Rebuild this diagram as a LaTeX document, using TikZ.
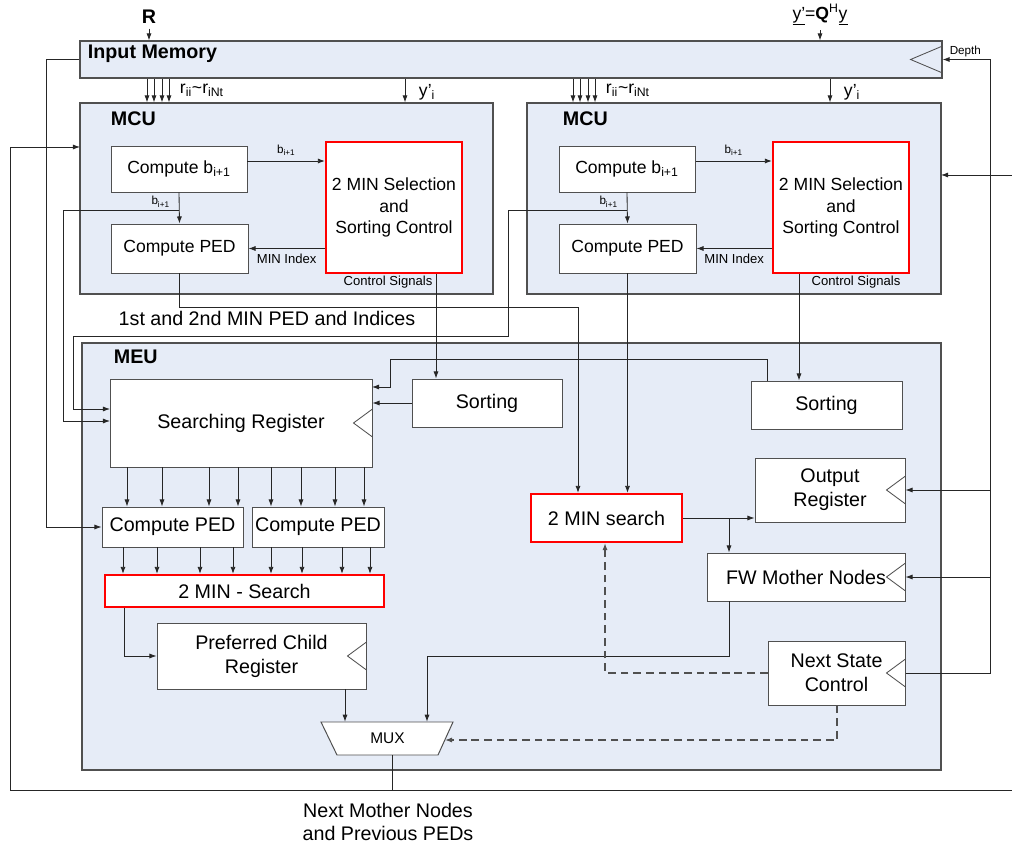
\documentclass[tikz,border=0pt]{standalone}
\usepackage{fontspec}
\setmainfont{Liberation Sans}
\usetikzlibrary{arrows.meta}

\definecolor{unitblue}{HTML}{E6ECF7}
\definecolor{edgegray}{HTML}{505050}

\tikzset{
  unit/.style={draw=edgegray, fill=unitblue, line width=0.8pt, inner sep=0pt},
  box/.style={draw=edgegray, fill=white, line width=0.7pt, inner sep=0pt, align=center},
  redbox/.style={box, draw=red, line width=1.6pt},
  wh/.style 2 args={minimum width=#1*0.025cm, minimum height=#2*0.025cm},
  arr/.style={-{Latex[length=5pt,width=3.6pt]}, line width=0.6pt, draw=black!85},
  ln/.style={line width=0.6pt, draw=black!85},
  dsh/.style={dash pattern=on 5.5pt off 3.5pt, draw=edgegray, line width=0.8pt},
  clk/.style={draw=edgegray, line width=0.6pt},
  big/.style={font=\fontsize{14}{17}\selectfont},
  mid/.style={font=\fontsize{12.5}{15.3}\selectfont},
  small/.style={font=\fontsize{9.3}{11}\selectfont},
  tiny/.style={font=\fontsize{8.3}{10}\selectfont},
  head/.style={font=\fontsize{14}{17}\selectfont\bfseries},
}

\begin{document}
\begin{tikzpicture}[x=0.025cm, y=-0.025cm]
\useasboundingbox (0,0) rectangle (1012,845);

%%Input memory
\node[unit, wh={862}{37}] (inmem) at (511,59.5) {};
\node[head, anchor=west] (inmemlbl) at (83,54) {Input Memory};
\draw[clk] (inmem.east) ++(0,-13.5) -- ++(-32,13.5) -- ++(32,13.5);
\node[head] (rlbl) at (149,17) {R};
\node[mid] (qlbl) at (820,15) {\underline{y'}=\textbf{Q}\textsuperscript{H}\underline{y}};
\draw[arr] (rlbl) -- (rlbl |- inmem.north);
\draw[arr] (qlbl) -- (qlbl |- inmem.north);

%%MCU 1
\node[unit, wh={413}{191}] (mcuA) at (286.5,198.5) {};
\node[head, anchor=west] (mcuAlbl) at (106,119) {MCU};
\node[box, mid, wh={136}{46}] (cbA) at (179,169) {Compute b\textsubscript{i+1}};
\node[box, mid, wh={137}{49}] (cpedA) at (179.5,248.5) {Compute PED};
\node[redbox, mid, wh={136}{131}] (selA) at (394,207.5) {2 MIN Selection\\and\\Sorting Control};
\node[small] (csAlbl) at (388,282) {Control Signals};

%%MCU 2
\node[unit, wh={414}{191}] (mcuB) at (734,198.5) {};
\node[head, anchor=west] (mcuBlbl) at (558,119) {MCU};
\node[box, mid, wh={136}{46}] (cbB) at (627,169) {Compute b\textsubscript{i+1}};
\node[box, mid, wh={137}{49}] (cpedB) at (627.5,248.5) {Compute PED};
\node[redbox, mid, wh={136}{131}] (selB) at (841,207.5) {2 MIN Selection\\and\\Sorting Control};
\node[small] (csBlbl) at (856,282) {Control Signals};

\node[big] (pedlbl) at (267,318) {1st and 2nd MIN PED and Indices};

%%MEU
\node[unit, wh={859}{427}] (meu) at (511.5,556.5) {};
\node[head, anchor=west] (meulbl) at (109,357) {MEU};
\node[box, big, wh={262}{88}] (sreg) at (241,423) {Searching Register};
\node[box, big, wh={150}{48}] (sortA) at (487,403) {Sorting};
\node[box, big, wh={151}{48}] (sortB) at (826.5,405) {Sorting};
\node[box, big, wh={141}{40}] (cpedC) at (172.5,527) {Compute PED};
\node[box, big, wh={132}{40}] (cpedD) at (318,527) {Compute PED};
\node[redbox, big, wh={279}{32}] (minsrch) at (244.5,591) {2 MIN - Search};
\node[box, big, wh={209}{66}] (pcreg) at (261.5,656) {Preferred Child\\Register};
\node[redbox, big, wh={151}{48}] (twomin) at (606.5,518) {2 MIN search};
\node[box, big, wh={150}{64}] (outreg) at (830,490) {Output\\Register};
\node[box, big, wh={198}{48}] (fwmn) at (806,577) {FW Mother Nodes};
\node[box, big, wh={137}{64}] (nsc) at (836.5,673) {Next State\\Control};
\foreach \n in {sreg,pcreg,outreg,fwmn,nsc}
  \draw[clk] (\n.east) ++(0,-14) -- ++(-19,14) -- ++(19,14);

%%MUX
\coordinate (muxNW) at (321,722);
\coordinate (muxNE) at (453,722);
\coordinate (muxSE) at (438,755);
\coordinate (muxSW) at (337,755);
\draw[box] (muxNW) -- (muxNE) -- (muxSE) -- (muxSW) -- cycle;
\node[wh={100}{33}, inner sep=0pt, font=\fontsize{11}{12}\selectfont] (mux) at (387.5,738.5) {MUX};
\node[big, align=center, font=\fontsize{14}{16.5}\selectfont] (nxtlbl) at (388,822) {Next Mother Nodes\\and Previous PEDs};

%%input buses
\foreach \x in {147,154,162,169} {
  \coordinate (rx) at (\x,0);
  \draw[arr] (inmem.south -| rx) -- (mcuA.north -| rx);
}
\foreach \x in {573,580,588,595} {
  \coordinate (rx) at (\x,0);
  \draw[arr] (inmem.south -| rx) -- (mcuB.north -| rx);
}
\node[mid, anchor=west] (rAlbl) at (175,90) {r\textsubscript{ii}\textasciitilde r\textsubscript{iNt}};
\node[mid, anchor=west] (rBlbl) at (601,90) {r\textsubscript{ii}\textasciitilde r\textsubscript{iNt}};
\coordinate (yA) at (405,0);
\coordinate (yB) at (830,0);
\draw[arr] (inmem.south -| yA) -- (mcuA.north -| yA);
\draw[arr] (inmem.south -| yB) -- (mcuB.north -| yB);
\node[mid, anchor=west] (yAlbl) at (414,92) {y'\textsubscript{i}};
\node[mid, anchor=west] (yBlbl) at (839,92) {y'\textsubscript{i}};

%%inside MCU 1
\draw[arr] ([yshift=0.2cm]cbA.east) -- ([yshift=0.2cm]cbA.east -| selA.west) node[midway, above, tiny] {b\textsubscript{i+1}};
\draw[arr] (cbA.south) -- (cpedA.north) node[pos=0.3, left=3pt, tiny] {b\textsubscript{i+1}};
\draw[arr] (selA.west |- cpedA.east) -- (cpedA.east) node[midway, below, small] {MIN Index};
%%inside MCU 2
\draw[arr] ([yshift=0.2cm]cbB.east) -- ([yshift=0.2cm]cbB.east -| selB.west) node[midway, above, tiny] {b\textsubscript{i+1}};
\draw[arr] (cbB.south) -- (cpedB.north) node[pos=0.3, left=3pt, tiny] {b\textsubscript{i+1}};
\draw[arr] (selB.west |- cpedB.east) -- (cpedB.east) node[midway, below, small] {MIN Index};

%%b branches to searching register
\coordinate (bAj) at (179,210);
\coordinate (bAr) at (63,210);
\coordinate (sregA) at (110,421);
\draw[arr] (bAj) -- (bAr) |- (sregA);
\coordinate (bBj) at (627,210);
\coordinate (bBr) at (508,210);
\coordinate (bBd) at (508,336);
\coordinate (bBl) at (73,336);
\coordinate (sregB1) at (110,409);
\draw[arr] (bBj) -- (bBr) -- (bBd) -- (bBl) |- (sregB1);

%%PED outputs
\coordinate (pedA) at (578,307);
\draw[arr] (cpedA.south) |- (pedA) -- (pedA |- twomin.north);
\draw[arr] (cpedB.south) -- (cpedB.south |- twomin.north);

%%control signals
\coordinate (csA) at (436,0);
\coordinate (csB) at (799,0);
\draw[arr] (selA.south -| csA) -- (sortA.north -| csA);
\draw[arr] (selB.south -| csB) -- (sortB.north -| csB);
\draw[arr] (sortA.west) -- (sortA.west -| sreg.east);
\coordinate (sbA) at (767,359);
\coordinate (sbB) at (390,359);
\coordinate (sregB) at (372,387);
\draw[arr] (sortB.north -| sbA) -- (sbA) -- (sbB) |- (sregB);

%%searching register to compute PED
\foreach \x in {127,162,209,238} {
  \coordinate (bx) at (\x,0);
  \draw[arr] (sreg.south -| bx) -- (cpedC.north -| bx);
}
\foreach \x in {271,301,335,364} {
  \coordinate (bx) at (\x,0);
  \draw[arr] (sreg.south -| bx) -- (cpedD.north -| bx);
}
\foreach \x in {123,157,200,233} {
  \coordinate (bx) at (\x,0);
  \draw[arr] (cpedC.south -| bx) -- (minsrch.north -| bx);
}
\foreach \x in {271,302,342,370} {
  \coordinate (bx) at (\x,0);
  \draw[arr] (cpedD.south -| bx) -- (minsrch.north -| bx);
}

%%search to register to mux
\coordinate (msA) at (124,0);
\draw[arr] (minsrch.south -| msA) |- (pcreg.west);
\coordinate (mxA) at (345,0);
\draw[arr] (pcreg.south -| mxA) -- (mux.north -| mxA);
\coordinate (fwA) at (729,656);
\coordinate (fwB) at (427,656);
\draw[arr] (fwmn.south -| fwA) -- (fwA) -- (fwB) -- (mux.north -| fwB);
\draw[arr] (twomin.east) -- (twomin.east -| outreg.west);
\draw[arr] (fwA |- twomin.east) -- (fwmn.north -| fwA);

%%next state control
\coordinate (nsA) at (605,673);
\draw[arr, dsh] (nsc.west) -- (nsA) -- (twomin.south -| nsA);
\coordinate (nsB) at (837,740);
\coordinate (muxR) at (445,740);
\draw[arr, dsh] (nsc.south -| nsB) -- (nsB) -- (muxR);

%%depth / clock line
\coordinate (dep) at (990,673);
\draw[arr] (nsc.east) -- (dep) |- (inmem.east) node[pos=0.76, above, inner sep=1.5pt, tiny] {Depth};
\draw[arr] (dep |- outreg.east) -- (outreg.east);
\draw[arr] (dep |- fwmn.east) -- (fwmn.east);

%%feedback
\coordinate (fbL) at (10,790);
\coordinate (fbR) at (1012,790);
\coordinate (mcuAin) at (80,147);
\coordinate (mcuBin) at (941,175);
\coordinate (mxO) at (392,0);
\draw[arr] (mux.south -| mxO) -- (fbL -| mxO) -- (fbL) |- (mcuAin);
\draw[ln] (fbL -| mxO) -- (fbR);
\draw[arr] (fbR |- mcuBin) -- (mcuBin);

%%memory to compute PED
\coordinate (imL) at (46,0);
\draw[arr] (inmem.west) -- (inmem.west -| imL) |- (cpedC.west);

\end{tikzpicture}
\end{document}
